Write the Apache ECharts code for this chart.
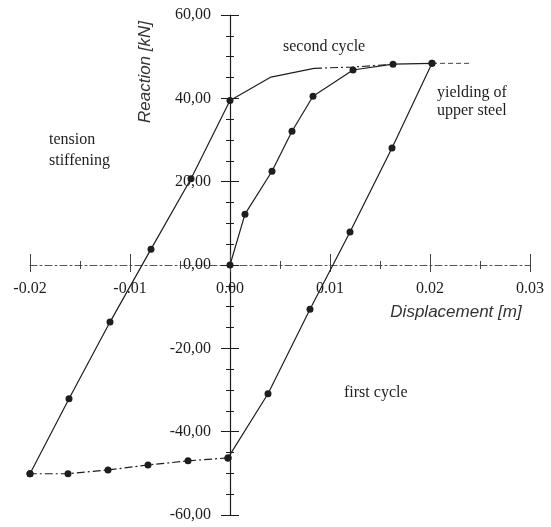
<!DOCTYPE html>
<html>
<head>
<meta charset="utf-8">
<script src="https://cdn.jsdelivr.net/npm/echarts@6/dist/echarts.min.js"></script>
<style>html,body{margin:0;padding:0;background:#fff}#c{width:551px;height:527px}</style>
</head>
<body>
<div id="c"></div>
<script>
// Data (displacement [m], reaction [kN])
const firstUpX = [0, 0.0015, 0.0042, 0.0062, 0.0083, 0.0123, 0.0163, 0.0202];
const firstUpY = [0, 12.2, 22.5, 32.1, 40.5, 46.8, 48.2, 48.4];
const unloadX = [0.0202, 0.0162, 0.0120, 0.0080, 0.0038, -0.0002];
const unloadY = [48.4, 28.1, 7.9, -10.6, -30.9, -46.3];
const bottomX = [-0.0002, -0.0042, -0.0082, -0.0122, -0.0162, -0.0200];
const bottomY = [-46.3, -47.0, -48.0, -49.2, -50.1, -50.1];
const reloadX = [-0.0200, -0.0161, -0.0120, -0.0079, -0.0039, 0];
const reloadY = [-50.1, -32.1, -13.7, 3.8, 20.7, 39.5];
const secondX = [0, 0.0041, 0.0084];
const secondY = [39.5, 45.1, 47.2];
const secondTailX = [0.0084, 0.0123, 0.0163];
const secondTailY = [47.2, 47.5, 48.2];
const plateauX = [0.0202, 0.0241];
const plateauY = [48.4, 48.4];

const xTicks = { min: -0.02, max: 0.03, interval: 0.01 };
const yTicks = { min: -60, max: 60, interval: 20 };

const annotations = [
  { text: 'second cycle', x: 283, y: 47 },
  { text: 'yielding of', x: 437, y: 93 },
  { text: 'upper steel', x: 437, y: 111 },
  { text: 'tension', x: 49, y: 140 },
  { text: 'stiffening', x: 49, y: 161 },
  { text: 'first cycle', x: 344, y: 393 }
];

const pts = (xs, ys) => xs.map((x, i) => [x, ys[i]]);
const ink = '#1e1e1e';
const serif = '"Liberation Serif", "DejaVu Serif", serif';

// grid geometry, and axis offsets that put the axes through zero
const G = { left: 30, right: 21, top: 15, bottom: 12, w: 551, h: 527 };
const plotW = G.w - G.left - G.right, plotH = G.h - G.top - G.bottom;
const yAxisOffset = -plotW * (0 - xTicks.min) / (xTicks.max - xTicks.min);
const xAxisOffset = -plotH * (0 - yTicks.min) / (yTicks.max - yTicks.min);

function line(data, opts) {
  return Object.assign({
    type: 'line', data: data, symbol: 'circle', symbolSize: 7, showSymbol: true,
    itemStyle: { color: ink }, lineStyle: { color: ink, width: 1.2 },
    animation: false, z: 5, silent: true, clip: false
  }, opts || {});
}

const chart = echarts.init(document.getElementById('c'), null, { renderer: 'canvas' });
chart.setOption({
  animation: false,
  grid: { left: G.left, right: G.right, top: G.top, bottom: G.bottom, containLabel: false, outerBoundsMode: 'none' },
  xAxis: [
    {
      type: 'value', min: xTicks.min, max: xTicks.max, interval: xTicks.interval,
      position: 'bottom', offset: xAxisOffset,
      axisLine: { show: true, onZero: false, lineStyle: { color: '#555', width: 1, type: [7, 3, 2, 3] } },
      axisTick: { show: true, inside: false, length: 7, lineStyle: { color: '#444' } },
      minorTick: { show: true, splitNumber: 2, length: 4, lineStyle: { color: '#444' } },
      axisLabel: { margin: 16, fontFamily: serif, fontSize: 16, color: ink,
        formatter: v => v.toFixed(2) },
      splitLine: { show: false }
    },
    {
      type: 'value', min: xTicks.min, max: xTicks.max, interval: xTicks.interval,
      position: 'bottom', offset: xAxisOffset,
      axisLine: { show: false, onZero: false },
      axisTick: { show: true, inside: true, length: 11, lineStyle: { color: '#444' } },
      minorTick: { show: true, splitNumber: 2, length: 4, lineStyle: { color: '#444' } },
      axisLabel: { show: false }, splitLine: { show: false }
    }
  ],
  yAxis: [
    {
      type: 'value', min: yTicks.min, max: yTicks.max, interval: yTicks.interval,
      position: 'left', offset: yAxisOffset,
      axisLine: { show: true, onZero: false, lineStyle: { color: ink, width: 1.2 } },
      axisTick: { show: true, inside: false, length: 9, lineStyle: { color: ink } },
      minorTick: { show: true, splitNumber: 4, length: 4, lineStyle: { color: ink } },
      axisLabel: { margin: 19, fontFamily: serif, fontSize: 16, color: ink,
        formatter: v => v.toFixed(2).replace('.', ',') },
      splitLine: { show: false }
    },
    {
      type: 'value', min: yTicks.min, max: yTicks.max, interval: yTicks.interval,
      position: 'left', offset: yAxisOffset,
      axisLine: { show: false, onZero: false },
      axisTick: { show: true, inside: true, length: 9, lineStyle: { color: ink } },
      minorTick: { show: true, splitNumber: 4, length: 4, lineStyle: { color: ink } },
      axisLabel: { show: false }, splitLine: { show: false }
    }
  ],
  series: [
    line(pts(firstUpX, firstUpY)),
    line(pts(unloadX, unloadY)),
    line(pts(bottomX, bottomY), { lineStyle: { color: ink, width: 1.2, type: [8, 3, 2, 3] } }),
    line(pts(reloadX, reloadY)),
    line(pts(secondX, secondY), { showSymbol: false, symbol: 'none' }),
    line(pts(secondTailX, secondTailY), { showSymbol: false, symbol: 'none', lineStyle: { color: ink, width: 1.1, type: [8, 3, 2, 3] } }),
    line(pts(plateauX, plateauY), { showSymbol: false, symbol: 'none', lineStyle: { color: '#444', width: 1, type: [5, 3] } })
  ],
  graphic: [
    ...annotations.map(a => ({
      type: 'text', x: a.x, y: a.y, silent: true,
      style: { text: a.text, font: '16px ' + serif, fill: ink, textAlign: 'left', textVerticalAlign: 'middle' }
    })),
    { type: 'text', x: 145, y: 72, rotation: Math.PI / 2, silent: true,
      style: { text: 'Reaction [kN]', font: 'italic 17px "Liberation Sans", Arial, sans-serif', fill: '#333', textAlign: 'center', textVerticalAlign: 'middle' } },
    { type: 'text', x: 456, y: 312, silent: true,
      style: { text: 'Displacement [m]', font: 'italic 17px "Liberation Sans", Arial, sans-serif', fill: '#333', textAlign: 'center', textVerticalAlign: 'middle' } }
  ]
});
</script>
</body>
</html>
